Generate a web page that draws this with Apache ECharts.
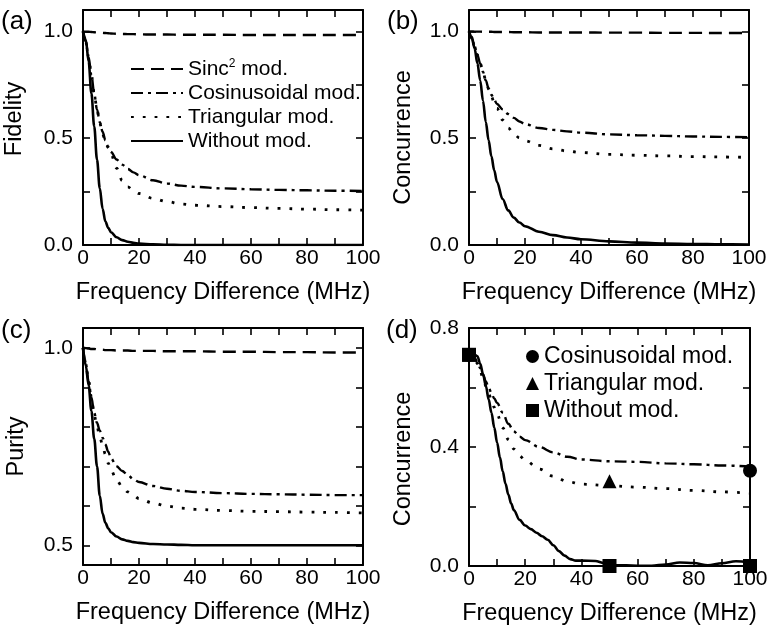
<!DOCTYPE html>
<html>
<head>
<meta charset="utf-8">
<script src="https://cdn.jsdelivr.net/npm/echarts@6/dist/echarts.min.js"></script>
<style>html,body{margin:0;padding:0;background:#fff}#c{width:772px;height:631px}</style>
</head>
<body>
<div id="c"></div>
<script>
// ---------- data ----------
const freq = [0,1,2,3,4,5,6,7,8,9,10,12,14,16,18,20,25,30,35,40,50,60,70,80,90,100];

// (a) Fidelity
const fidSinc = [1,0.999,0.998,0.997,0.996,0.995,0.994,0.993,0.992,0.991,0.99,0.989,0.988,0.987,0.987,0.986,0.985,0.985,0.984,0.984,0.984,0.983,0.983,0.983,0.983,0.983];
const fidCos  = [1,0.95,0.88,0.795,0.71,0.635,0.575,0.53,0.49,0.46,0.435,0.4,0.376,0.356,0.34,0.327,0.303,0.288,0.278,0.272,0.265,0.261,0.258,0.256,0.254,0.253];
const fidTri  = [1,0.95,0.88,0.795,0.71,0.635,0.57,0.52,0.48,0.455,0.425,0.36,0.302,0.272,0.255,0.241,0.218,0.203,0.192,0.186,0.18,0.175,0.171,0.168,0.165,0.163];
const fidNone = [1,0.96,0.86,0.71,0.555,0.40,0.265,0.17,0.11,0.08,0.06,0.036,0.023,0.015,0.01,0.007,0.003,0.001,0,0,0,0,0,0,0,0];

// (b) Concurrence
const conSinc = [1,1,0.999,0.999,0.999,0.998,0.998,0.998,0.998,0.997,0.997,0.997,0.997,0.996,0.996,0.996,0.995,0.995,0.995,0.995,0.994,0.994,0.993,0.993,0.992,0.992];
const conCos  = [1,0.965,0.93,0.89,0.85,0.81,0.77,0.733,0.703,0.68,0.66,0.635,0.613,0.595,0.578,0.566,0.548,0.539,0.532,0.526,0.518,0.514,0.511,0.508,0.506,0.505];
const conTri  = [1,0.965,0.93,0.89,0.85,0.81,0.77,0.73,0.695,0.665,0.64,0.585,0.548,0.52,0.502,0.488,0.466,0.45,0.44,0.433,0.424,0.42,0.417,0.414,0.412,0.41];
const conNone = [1,0.975,0.92,0.85,0.77,0.675,0.575,0.49,0.415,0.35,0.295,0.215,0.162,0.128,0.105,0.088,0.062,0.046,0.035,0.027,0.017,0.011,0.007,0.005,0.003,0.002];

// (c) Purity
const purSinc = [1,0.999,0.998,0.997,0.997,0.996,0.995,0.995,0.994,0.994,0.994,0.993,0.993,0.993,0.992,0.992,0.992,0.991,0.991,0.991,0.99,0.99,0.989,0.989,0.988,0.988];
const purCos  = [1,0.96,0.915,0.875,0.835,0.81,0.79,0.772,0.755,0.737,0.72,0.7,0.688,0.678,0.667,0.66,0.65,0.643,0.638,0.635,0.632,0.63,0.629,0.628,0.627,0.627];
const purTri  = [1,0.96,0.915,0.875,0.83,0.8,0.775,0.752,0.73,0.708,0.69,0.665,0.648,0.635,0.626,0.618,0.607,0.599,0.594,0.591,0.588,0.586,0.585,0.584,0.583,0.582];
const purNone = [1,0.955,0.905,0.84,0.77,0.70,0.625,0.58,0.557,0.543,0.533,0.522,0.515,0.511,0.508,0.506,0.503,0.502,0.501,0.5,0.5,0.5,0.5,0.5,0.5,0.5];

// (d) Concurrence (lines + experimental points)
const dCos = [0.71,0.71,0.7,0.685,0.665,0.643,0.62,0.6,0.58,0.563,0.548,0.515,0.478,0.452,0.435,0.423,0.4,0.382,0.367,0.358,0.352,0.35,0.345,0.342,0.338,0.334];
const dTri = [0.71,0.71,0.7,0.68,0.655,0.63,0.605,0.58,0.555,0.533,0.51,0.465,0.425,0.393,0.37,0.355,0.326,0.302,0.284,0.275,0.27,0.265,0.26,0.254,0.249,0.245];
const dNoneX = [0,2,3,4,5,6,7,8,9,10,11,12,13,14,15,16,18,20,22,24,26,28,30,32,34,36,38,40,45,48,52,56,60,65,70,75,80,85,90,95,100];
const dNone  = [0.71,0.71,0.705,0.68,0.645,0.605,0.56,0.515,0.465,0.415,0.365,0.318,0.276,0.24,0.21,0.187,0.155,0.136,0.124,0.112,0.1,0.088,0.07,0.05,0.035,0.023,0.018,0.018,0.017,0.01,0.002,0.002,0.001,0.001,0.005,0.012,0.01,0.002,0.009,0.016,0.012];

const expCosX = [0,100],   expCosY = [0.71,0.32];
const expTriX = [0,50],    expTriY = [0.71,0.285];
const expNoneX = [0,50,100], expNoneY = [0.71,0,0];

// tick labels
const xLabels = [0,20,40,60,80,100];
const yLabelsAB = [0,0.5,1.0];
const yLabelsC = [0.5,1.0];
const yLabelsD = [0,0.4,0.8];

const legendText = {
  'L-sinc':'{t|Sinc}{s|2}{t| mod.}', 'L-cos':'Cosinusoidal mod.', 'L-tri':'Triangular mod.', 'L-none':'Without mod.',
  'P-cos':'Cosinusoidal mod.', 'P-tri':'Triangular mod.', 'P-none':'Without mod.'
};

// ---------- chart ----------
const FONT = 'Liberation Sans, Arial, sans-serif';
const BLACK = '#000';
const pair = (xs, ys) => xs.map((x, i) => [x, ys[i]]);

const grids = [
  {left:83, top:10, width:280, height:235},
  {left:469, top:10, width:280, height:235},
  {left:83, top:328, width:280, height:237},
  {left:469, top:328, width:281, height:238}
];
const yCfg = [
  {min:0, max:1.1, interval:0.25, labels:yLabelsAB, name:'Fidelity', gap:56, pad:[0,0,0,17]},
  {min:0, max:1.1, interval:0.25, labels:yLabelsAB, name:'Concurrence', gap:53, pad:[0,20,0,0]},
  {min:0.45, max:1.05, step:0.1, labels:yLabelsC, name:'Purity', gap:54.5, pad:[0,0,0,0]},
  {min:0, max:0.8, interval:0.2, labels:yLabelsD, name:'Concurrence', gap:53, pad:[0,24,0,0]}
];
const has = (arr, v) => arr.some(a => Math.abs(a - v) < 1e-6);

const axLine = {show:true, onZero:false, lineStyle:{color:BLACK, width:2}};
const axTick = {show:true, inside:true, length:7, lineStyle:{color:BLACK, width:1.6}};
const yScale = c => c.interval
  ? {min:c.min, max:c.max, interval:c.interval}
  : {min:c.min, max:c.max, splitNumber:6, minInterval:c.step, maxInterval:c.step};
const xAxes = [], yAxes = [];
grids.forEach((g, i) => {
  xAxes.push({
    type:'value', gridIndex:i, min:0, max:100, interval:10, position:'bottom',
    axisLine:axLine, axisTick:axTick, splitLine:{show:false},
    axisLabel:{formatter:v => has(xLabels, v) ? String(v) : '', fontSize:21, color:BLACK, fontFamily:FONT, margin:3},
    name:'Frequency Difference (MHz)', nameLocation:'middle', nameGap:36,
    nameTextStyle:{fontSize:23.5, color:BLACK, fontFamily:FONT}
  });
  xAxes.push({
    type:'value', gridIndex:i, min:0, max:100, interval:10, position:'top',
    axisLine:axLine, axisTick:axTick, splitLine:{show:false}, axisLabel:{show:false}
  });
  const c = yCfg[i];
  yAxes.push(Object.assign({
    type:'value', gridIndex:i, position:'left',
    axisLine:axLine, axisTick:axTick, splitLine:{show:false},
    axisLabel:{formatter:v => has(c.labels, v) ? v.toFixed(1) : '', fontSize:21, color:BLACK, fontFamily:FONT, margin:10},
    name:c.name, nameLocation:'middle', nameGap:c.gap,
    nameTextStyle:{fontSize:23.5, color:BLACK, fontFamily:FONT, padding:c.pad}
  }, yScale(c)));
  yAxes.push(Object.assign({
    type:'value', gridIndex:i, position:'right',
    axisLine:axLine, axisTick:axTick, splitLine:{show:false}, axisLabel:{show:false}
  }, yScale(c)));
});

const styles = {
  'L-sinc': {color:BLACK, width:2.4, type:[13,7]},
  'L-cos':  {color:BLACK, width:2.4, type:[12,5,3,5]},
  'L-tri':  {color:BLACK, width:2.8, type:[2.8,9]},
  'L-none': {color:BLACK, width:2.6, type:'solid'}
};
const lineSeries = (name, gi, data) => ({
  type:'line', name, xAxisIndex:2*gi, yAxisIndex:2*gi, data,
  symbol:'none', smooth:0.35, smoothMonotone:'x',
  lineStyle:styles[name], itemStyle:{color:BLACK}, silent:true, animation:false
});

const panels = [
  [fidSinc, fidCos, fidTri, fidNone],
  [conSinc, conCos, conTri, conNone],
  [purSinc, purCos, purTri, purNone]
];
const series = [];
panels.forEach((p, gi) => {
  series.push(lineSeries('L-sinc', gi, pair(freq, p[0])));
  series.push(lineSeries('L-cos', gi, pair(freq, p[1])));
  series.push(lineSeries('L-tri', gi, pair(freq, p[2])));
  series.push(lineSeries('L-none', gi, pair(freq, p[3])));
});
series.push(lineSeries('L-cos', 3, pair(freq, dCos)));
series.push(lineSeries('L-tri', 3, pair(freq, dTri)));
series.push(lineSeries('L-none', 3, pair(dNoneX, dNone)));
const pts = (name, sym, xs, ys) => ({
  type:'scatter', name, xAxisIndex:6, yAxisIndex:6, data:pair(xs, ys),
  symbol:sym, symbolSize:14, itemStyle:{color:BLACK, opacity:1}, clip:false, animation:false, z:5
});
series.push(pts('P-cos', 'circle', expCosX, expCosY));
series.push(pts('P-tri', 'triangle', expTriX, expTriY));
series.push(pts('P-none', 'rect', expNoneX, expNoneY));

const rich = {t:{fontSize:21, fontFamily:FONT, color:BLACK}, s:{fontSize:12, fontFamily:FONT, color:BLACK, padding:[0,0,10,0]}};
const option = {
  backgroundColor:'#fff',
  animation:false,
  grid:grids.map(g => Object.assign({containLabel:false}, g)),
  xAxis:xAxes, yAxis:yAxes,
  legend:[
    {orient:'vertical', left:130, top:58, padding:0, itemWidth:52, itemHeight:14, itemGap:3, selectedMode:false,
     itemStyle:{opacity:0},
     data:['L-sinc','L-cos','L-tri','L-none'], formatter:n => legendText[n],
     textStyle:{fontSize:21, fontFamily:FONT, color:BLACK, rich}},
    {orient:'vertical', left:526, top:345, padding:0, itemWidth:13, itemHeight:13, itemGap:4, selectedMode:false,
     itemStyle:{opacity:1},
     data:['P-cos','P-tri','P-none'], formatter:n => legendText[n],
     textStyle:{fontSize:23, fontFamily:FONT, color:BLACK}}
  ],
  graphic:[
    {type:'text', left:1, top:9, style:{text:'(a)', fontSize:26, fontFamily:FONT, fill:BLACK}},
    {type:'text', left:387, top:9, style:{text:'(b)', fontSize:26, fontFamily:FONT, fill:BLACK}},
    {type:'text', left:1, top:318, style:{text:'(c)', fontSize:26, fontFamily:FONT, fill:BLACK}},
    {type:'text', left:386, top:318, style:{text:'(d)', fontSize:26, fontFamily:FONT, fill:BLACK}}
  ],
  series
};
const chart = echarts.init(document.getElementById('c'), null, {renderer:'canvas'});
chart.setOption(option);
</script>
</body>
</html>
